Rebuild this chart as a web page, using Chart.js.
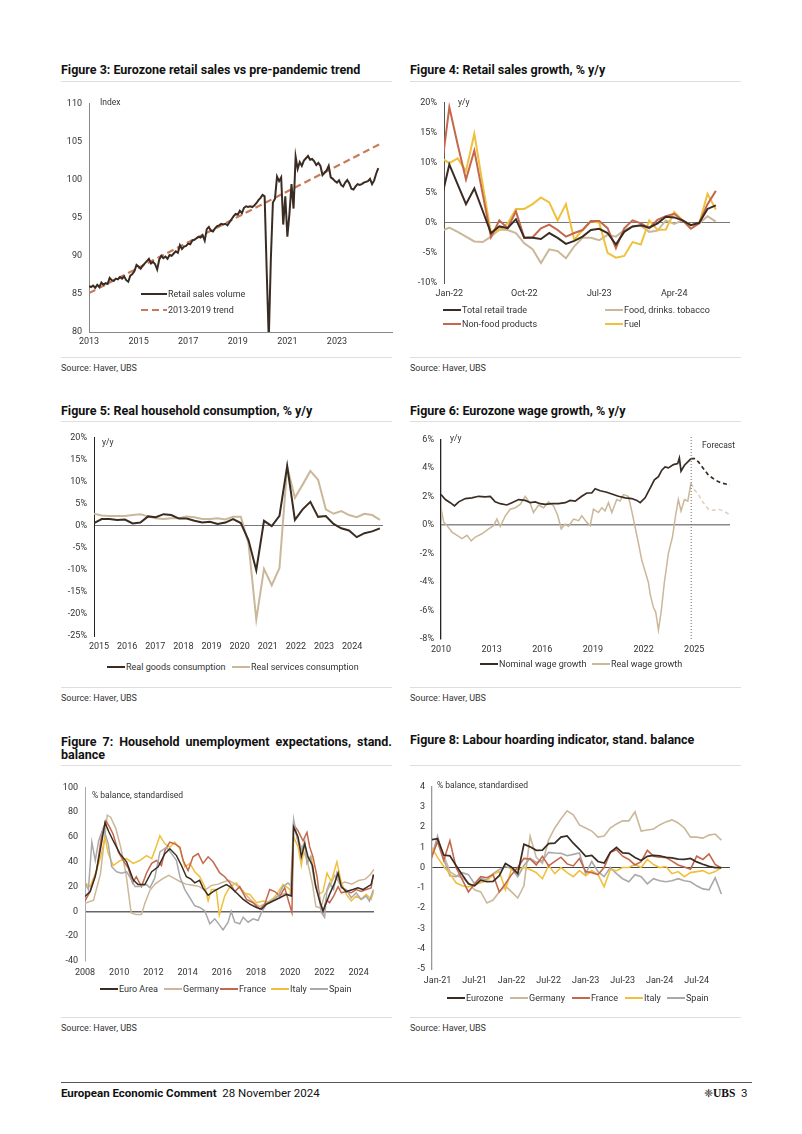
<!DOCTYPE html>
<html lang="en">
<head>
<meta charset="UTF-8" />
<script src="https://cdn.jsdelivr.net/npm/chart.js"></script>
<style>
  body { margin: 0; background: #fff; }
  #page { position: relative; width: 802px; height: 1134px; overflow: hidden; font-family: Roboto, "Open Sans", sans-serif; color: #222; }
  canvas { position: absolute; }
  .title { position: absolute; font-weight: 700; font-size: 12.5px; line-height: 13px; color: #111; }
  .rule { position: absolute; height: 1px; background: #dedede; }
  .source { position: absolute; font-size: 9px; line-height: 12px; color: #333; }
  .note { position: absolute; font-size: 8.5px; line-height: 12px; color: #333; z-index: 2; }
  .leg { position: absolute; display: flex; align-items: center; height: 12px; font-size: 9px; color: #333; white-space: nowrap; z-index: 2; }
  .sw { display: inline-block; width: 18px; height: 2px; margin-right: 1px; }
  .footer { position: absolute; top: 1086px; font-size: 11.5px; line-height: 14px; color: #111; }
</style>
</head>
<body>
<div id="page">
  <div class="title" style="left:61px; top:63px;">Figure 3: Eurozone retail sales vs pre-pandemic trend</div>
  <div class="title" style="left:410px; top:63px;">Figure 4: Retail sales growth, % y/y</div>
  <div class="rule" style="left:61px; top:81px; width:331px;"></div>
  <div class="rule" style="left:410px; top:81px; width:331px;"></div>

  <canvas id="fig3"></canvas>
  <canvas id="fig4"></canvas>
  <div class="note" style="left:100px; top:96px;">Index</div>
  <div class="note" style="left:458px; top:96px;">y/y</div>
  <div class="leg" style="left:141px; top:288px;"><span class="sw" style="width:26px; background:#3a2c22;"></span>Retail sales volume</div>
  <div class="leg" style="left:141px; top:304px;"><span class="sw" style="width:26px; height:2.5px; background:repeating-linear-gradient(to right,#c87a5a 0 7px,transparent 7px 11px);"></span>2013-2019 trend</div>
  <div class="leg" style="left:443px; top:304px;"><span class="sw" style="background:#3a2c22;"></span>Total retail trade</div>
  <div class="leg" style="left:605px; top:304px;"><span class="sw" style="background:#cbb799;"></span>Food, drinks. tobacco</div>
  <div class="leg" style="left:443px; top:318px;"><span class="sw" style="background:#c4674b;"></span>Non-food products</div>
  <div class="leg" style="left:605px; top:318px;"><span class="sw" style="background:#f0c03c;"></span>Fuel</div>

  <div class="rule" style="left:61px; top:357px; width:331px;"></div>
  <div class="rule" style="left:410px; top:357px; width:331px;"></div>
  <div class="source" style="left:61px; top:362px;">Source: Haver, UBS</div>
  <div class="source" style="left:410px; top:362px;">Source: Haver, UBS</div>

  <div class="title" style="left:61px; top:404px;">Figure 5: Real household consumption, % y/y</div>
  <div class="title" style="left:410px; top:404px;">Figure 6: Eurozone wage growth, % y/y</div>
  <div class="rule" style="left:61px; top:421px; width:331px;"></div>
  <div class="rule" style="left:410px; top:421px; width:331px;"></div>

  <canvas id="fig5"></canvas>
  <canvas id="fig6"></canvas>
  <div class="note" style="left:102px; top:436px;">y/y</div>
  <div class="note" style="left:450px; top:432px;">y/y</div>
  <div class="note" style="left:702px; top:439px;">Forecast</div>
  <div class="leg" style="left:107px; top:661px;"><span class="sw" style="background:#3a2c22;"></span>Real goods consumption</div>
  <div class="leg" style="left:232px; top:661px;"><span class="sw" style="background:#cbb799;"></span>Real services consumption</div>
  <div class="leg" style="left:480px; top:658px;"><span class="sw" style="background:#3a2c22;"></span>Nominal wage growth</div>
  <div class="leg" style="left:592px; top:658px;"><span class="sw" style="background:#cbb799;"></span>Real wage growth</div>

  <div class="rule" style="left:61px; top:687px; width:331px;"></div>
  <div class="rule" style="left:410px; top:687px; width:331px;"></div>
  <div class="source" style="left:61px; top:692px;">Source: Haver, UBS</div>
  <div class="source" style="left:410px; top:692px;">Source: Haver, UBS</div>

  <div class="title" style="left:61px; top:735px; width:331px; text-align:justify;">Figure 7: Household unemployment expectations, stand. balance</div>
  <div class="title" style="left:410px; top:733px;">Figure 8: Labour hoarding indicator, stand. balance</div>
  <div class="rule" style="left:61px; top:765px; width:331px;"></div>
  <div class="rule" style="left:410px; top:765px; width:331px;"></div>

  <canvas id="fig7"></canvas>
  <canvas id="fig8"></canvas>
  <div class="note" style="left:92px; top:789px;">% balance, standardised</div>
  <div class="note" style="left:437px; top:779px;">% balance, standardised</div>
  <div class="leg" style="left:100px; top:983px;"><span class="sw" style="background:#3a2c22;"></span>Euro Area</div>
  <div class="leg" style="left:164px; top:983px;"><span class="sw" style="background:#cbb799;"></span>Germany</div>
  <div class="leg" style="left:220px; top:983px;"><span class="sw" style="background:#c4674b;"></span>France</div>
  <div class="leg" style="left:271px; top:983px;"><span class="sw" style="background:#f0c03c;"></span>Italy</div>
  <div class="leg" style="left:310px; top:983px;"><span class="sw" style="background:#a9a9a9;"></span>Spain</div>
  <div class="leg" style="left:447px; top:992px;"><span class="sw" style="background:#3a2c22;"></span>Eurozone</div>
  <div class="leg" style="left:510px; top:992px;"><span class="sw" style="background:#cbb799;"></span>Germany</div>
  <div class="leg" style="left:572px; top:992px;"><span class="sw" style="background:#c4674b;"></span>France</div>
  <div class="leg" style="left:625px; top:992px;"><span class="sw" style="background:#f0c03c;"></span>Italy</div>
  <div class="leg" style="left:667px; top:992px;"><span class="sw" style="background:#a9a9a9;"></span>Spain</div>

  <div class="rule" style="left:61px; top:1017px; width:331px;"></div>
  <div class="rule" style="left:410px; top:1017px; width:331px;"></div>
  <div class="source" style="left:61px; top:1022px;">Source: Haver, UBS</div>
  <div class="source" style="left:410px; top:1022px;">Source: Haver, UBS</div>

  <div class="rule" style="left:61px; top:1082px; width:691px; background:#555;"></div>
  <div class="footer" style="left:61px;"><b>European Economic Comment</b>&nbsp; 28 November 2024</div>
  <div class="footer" style="left:704px;"><span style="font-size:11px;">❈</span><span style="font-family:'Liberation Serif',serif; font-weight:700;">UBS</span>&nbsp;&nbsp;3</div>
</div>

<script>
// ---------- data ----------
// Figure 3: monthly from Jan 2013
const rsStartYear = 2013;
const retailVolume = [
  86.0, 85.9, 86.1, 85.8, 86.2, 85.9, 86.5, 86.2, 86.4, 86.3, 87.1, 86.8,
  86.7, 87.0, 86.9, 87.2, 87.0, 87.3, 86.8, 86.6, 87.4, 87.6, 88.0, 88.8,
  88.6, 88.3, 88.7, 89.0, 89.3, 89.6, 89.0, 89.2, 88.9, 88.2, 89.5, 90.0,
  89.7, 89.9, 89.6, 90.1, 90.0, 90.3, 90.6, 90.4, 91.4, 90.9, 91.2, 91.3,
  91.6, 91.5, 92.0, 92.1, 92.3, 92.5, 92.4, 92.7, 92.0, 93.5, 93.8, 93.3,
  93.2, 93.6, 93.9, 94.0, 94.2, 94.1, 94.2, 94.0, 94.4, 94.8, 95.2, 95.5,
  95.4, 95.9, 95.6, 96.3, 96.5, 96.4, 96.5, 96.4, 96.6, 96.9, 97.3, 97.6,
  98.0, 97.8, 88.0, 79.0, 89.5, 97.0, 97.5, 100.4, 99.8, 100.3, 94.1, 97.8,
  92.5, 95.5, 99.4, 96.2, 103.0, 101.4, 102.3, 101.8, 102.5, 102.8, 103.1, 102.6,
  102.7, 102.4, 101.9, 102.2, 101.8, 100.6, 100.9, 101.2, 101.8, 100.3, 100.1, 99.8,
  99.6, 99.9, 99.3, 99.1, 99.6, 99.95, 99.5, 98.8, 98.7, 99.1, 99.4, 99.3,
  99.4, 99.6, 99.7, 99.8, 100.1, 99.4, 99.9, 100.8, 101.5
];
const trendYears = [2013, 2024.75];
const trendValues = [85.1, 104.7];
const fig3Ticks = [2013, 2015, 2017, 2019, 2021, 2023];
const fig3Labels = ["2013", "2015", "2017", "2019", "2021", "2023"];

// Figure 4: monthly Dec-21 .. Sep-24 (x = months since Jan-22)
const totalRetail = [3.7, 9.7, 6.4, 3.1, 5.7, 2.0, -1.7, -0.6, -0.9, 0.6, -2.5, -2.5, -2.7, -1.7, -2.5, -3.5, -3.0, -2.3, -1.2, -1.0, -1.7, -3.6, -1.5, -0.6, -0.4, -0.8, -0.1, 1.0, 0.9, 0.4, -0.4, 0.0, 2.3, 2.9];
const foodDrinks = [-1.4, -0.8, -1.5, -2.3, -3.1, -3.2, -2.3, -1.1, -1.2, -1.7, -3.4, -4.4, -6.7, -4.4, -4.7, -5.9, -3.9, -2.5, -2.5, -2.9, -2.0, -2.3, -1.2, -0.6, -0.5, -1.5, -1.3, 0.4, -0.2, 0.4, -0.4, -0.1, 1.1, 0.2];
const nonFood = [8.2, 19.2, 13.0, 7.2, 12.0, 4.8, -2.4, 0.4, -0.9, 1.9, -2.5, -2.4, -0.9, -0.3, -1.2, -2.3, -1.7, -1.2, 0.3, 0.3, -0.9, -4.2, -0.9, 0.4, -0.1, -0.9, 0.5, 1.1, 1.5, 0.4, -1.0, -0.1, 3.1, 5.3];
const fuel = [10.8, 9.9, 10.7, 8.6, 14.8, 6.4, -1.7, -1.2, -0.1, 2.3, 2.3, 3.1, 4.2, 3.4, 0.4, 3.1, -2.8, -1.2, 0.3, 0.0, -5.0, -5.8, -5.5, -3.2, -3.6, 0.4, -1.2, -1.1, 1.8, 0.4, -0.4, -0.1, 4.8, 2.2];
const fig4Ticks = [0, 9, 18, 27];
const fig4Labels = ["Jan-22", "Oct-22", "Jul-23", "Apr-24"];

// Figure 5: quarterly 2015Q1 .. 2024Q2
const realGoods = [0.6, 1.5, 1.5, 1.3, 1.4, 0.5, 0.7, 2.1, 1.9, 2.6, 2.4, 1.6, 1.6, 1.1, 0.7, 0.9, 0.4, 0.7, 1.5, 0.6, -3.3, -10.1, 1.1, -0.1, 2.2, 13.5, 1.3, 3.7, 5.4, 2.0, 2.2, 0.4, -0.6, -1.1, -2.6, -1.7, -1.3, -0.6];
const realServices = [2.7, 2.3, 2.2, 2.2, 2.2, 2.4, 2.6, 2.1, 1.7, 1.5, 1.7, 1.7, 2.1, 1.9, 1.5, 1.5, 1.7, 1.4, 2.0, 2.0, -4.1, -21.3, -9.8, -13.5, -9.6, 13.3, 6.3, 9.3, 12.4, 10.4, 3.7, 2.7, 3.3, 2.4, 1.9, 2.7, 2.4, 1.3];
const fig5Ticks = [0.65, 4.29, 7.93, 11.57, 15.21, 18.85, 22.49, 26.13, 29.77, 33.41];
const fig5Labels = ["2015", "2016", "2017", "2018", "2019", "2020", "2021", "2022", "2023", "2024"];

// Figure 6: [year, % y/y]
const nominalWage = [[2010.0,2.13],[2010.26,1.78],[2010.55,1.56],[2010.8,1.33],[2011.05,1.62],[2011.44,1.85],[2011.83,1.9],[2012.23,2.01],[2012.62,1.97],[2012.92,2.0],[2013.21,1.62],[2013.51,1.49],[2013.9,1.4],[2014.2,1.56],[2014.6,1.78],[2014.99,1.72],[2015.29,1.56],[2015.58,1.62],[2015.88,1.49],[2016.17,1.44],[2016.57,1.49],[2016.96,1.49],[2017.36,1.56],[2017.65,1.72],[2017.95,1.67],[2018.34,2.01],[2018.64,2.24],[2018.93,2.24],[2019.13,2.54],[2019.43,2.4],[2019.82,2.29],[2020.12,2.17],[2020.51,2.01],[2020.91,1.9],[2021.3,1.85],[2021.6,1.72],[2021.8,1.56],[2022.09,1.9],[2022.39,2.59],[2022.64,3.16],[2022.88,3.39],[2023.08,3.84],[2023.27,4.07],[2023.47,4.0],[2023.77,4.23],[2024.02,4.3],[2024.12,4.69],[2024.22,3.78],[2024.42,4.19],[2024.62,4.42],[2024.81,4.65]];
const nominalWageFc = [[2024.81,4.65],[2025.01,4.65],[2025.25,4.42],[2025.54,3.96],[2025.84,3.5],[2026.23,3.16],[2026.63,2.93],[2027.12,2.81]];
const realWage = [[2010.0,1.21],[2010.16,0.18],[2010.36,-0.05],[2010.65,-0.5],[2010.95,-0.73],[2011.24,-0.96],[2011.54,-0.73],[2011.79,-1.12],[2012.03,-0.85],[2012.43,-0.62],[2012.82,-0.27],[2013.12,-0.05],[2013.31,0.41],[2013.51,-0.11],[2013.81,0.64],[2014.1,1.1],[2014.4,1.21],[2014.69,1.44],[2014.99,2.01],[2015.29,1.49],[2015.48,0.87],[2015.78,1.4],[2016.08,1.21],[2016.37,1.62],[2016.67,1.33],[2016.92,0.64],[2017.12,-0.27],[2017.36,0.07],[2017.55,-0.11],[2017.85,0.41],[2018.15,0.3],[2018.34,0.64],[2018.64,0.18],[2018.84,-0.05],[2019.03,1.1],[2019.33,0.87],[2019.53,1.21],[2019.72,0.98],[2019.92,1.56],[2020.12,0.87],[2020.41,1.78],[2020.61,1.67],[2020.81,2.13],[2021.1,2.01],[2021.3,0.98],[2021.5,-0.16],[2021.7,-1.3],[2021.89,-2.45],[2022.09,-3.25],[2022.29,-4.05],[2022.39,-4.85],[2022.58,-5.77],[2022.72,-6.11],[2022.88,-7.37],[2023.04,-6.11],[2023.23,-4.05],[2023.47,-1.99],[2023.71,-0.85],[2023.91,0.76],[2024.06,1.78],[2024.22,0.98],[2024.42,1.78],[2024.62,1.67],[2024.81,2.93]];
const realWageFc = [[2024.81,2.93],[2025.01,2.47],[2025.25,2.13],[2025.54,1.56],[2025.84,1.1],[2026.13,1.03],[2026.43,1.1],[2026.73,0.98],[2027.12,0.71]];
const forecastStart = 2024.82;
const fig6Ticks = [2010, 2013, 2016, 2019, 2022, 2025];
const fig6Labels = ["2010", "2013", "2016", "2019", "2022", "2025"];

// Figure 7: [year, balance]
const ueEuro = [[2008.0,12],[2008.3,16],[2008.6,28],[2008.9,50],[2009.17,71.6],[2009.4,64],[2009.65,57],[2010.04,46.6],[2010.43,40],[2010.82,25.5],[2011.1,21.6],[2011.5,21.6],[2011.9,32],[2012.28,36],[2012.67,46.6],[2012.96,50.5],[2013.35,45],[2013.64,37],[2013.93,28],[2014.2,26],[2014.42,23],[2014.7,25],[2014.9,19],[2015.2,13],[2015.49,16],[2015.88,19],[2016.27,21.6],[2016.47,20],[2016.86,15],[2017.25,9.7],[2017.64,5.8],[2018.03,3.2],[2018.32,1.8],[2018.61,5.8],[2019.0,8.4],[2019.39,11],[2019.78,13.7],[2020.07,12.4],[2020.2,68],[2020.46,60],[2020.65,44],[2020.85,54.5],[2021.04,44],[2021.3,37],[2021.49,20],[2021.72,8.4],[2021.92,0.5],[2022.11,7],[2022.3,13.7],[2022.6,23],[2022.8,31],[2022.99,20],[2023.28,16],[2023.67,17.6],[2023.96,19],[2024.25,17.6],[2024.54,20],[2024.73,21.6],[2024.87,29.5]];
const ueGermany = [[2008.0,6.6],[2008.5,9],[2008.9,30],[2009.3,77.6],[2009.5,76],[2009.8,67],[2010.1,51],[2010.4,30],[2010.7,-1.3],[2011.0,-2.6],[2011.3,-2.6],[2011.5,6.6],[2011.8,17],[2012.1,22],[2012.5,26],[2012.9,29],[2013.3,26],[2013.6,23.7],[2013.9,22],[2014.3,21],[2014.7,20],[2015.0,17],[2015.4,21],[2015.8,22],[2016.1,23.7],[2016.4,25],[2016.8,22],[2017.2,17],[2017.5,12],[2017.9,6.6],[2018.2,4],[2018.6,6.6],[2019.0,10.5],[2019.4,13],[2019.7,14.5],[2020.0,13],[2020.2,72],[2020.4,59],[2020.7,51],[2021.0,41],[2021.3,22],[2021.5,4],[2021.8,2.6],[2022.0,13],[2022.3,20],[2022.6,29],[2022.9,22],[2023.2,23.7],[2023.6,22],[2024.0,25],[2024.4,26],[2024.7,30],[2024.9,34]];
const ueFrance = [[2008.0,8.4],[2008.3,16],[2008.68,33],[2008.97,61],[2009.22,73],[2009.46,67.6],[2009.65,62],[2009.95,48],[2010.24,41],[2010.53,35],[2010.78,23],[2011.0,28],[2011.3,20],[2011.6,31],[2011.9,38.7],[2012.18,41],[2012.47,37],[2012.67,49],[2012.96,55.8],[2013.25,54.5],[2013.55,51.8],[2013.74,41],[2014.03,33],[2014.32,44],[2014.62,46.6],[2014.9,38.7],[2015.2,44],[2015.49,40],[2015.88,31],[2016.17,28],[2016.47,23],[2016.76,16],[2017.05,20],[2017.44,9.7],[2017.83,7],[2018.22,1.8],[2018.51,5.8],[2018.8,17.6],[2019.1,16],[2019.39,12.4],[2019.68,19],[2019.93,7],[2020.1,-0.8],[2020.2,70],[2020.46,65],[2020.75,57],[2020.98,63.7],[2021.14,52],[2021.33,44],[2021.57,28],[2021.76,7],[2021.92,-0.8],[2022.11,9.7],[2022.3,7],[2022.54,12.4],[2022.8,20],[2022.99,15],[2023.28,16],[2023.57,15],[2023.86,17.6],[2024.15,16],[2024.44,17.6],[2024.73,19],[2024.87,30]];
const ueItaly = [[2008.0,23],[2008.3,20],[2008.68,33],[2008.97,46.6],[2009.17,60],[2009.36,46.6],[2009.65,37],[2010.04,41],[2010.43,42.6],[2010.82,38.7],[2011.2,41],[2011.6,45],[2011.9,42.6],[2012.08,49],[2012.38,61],[2012.67,54.5],[2012.96,51.8],[2013.25,55.8],[2013.55,50.5],[2013.84,36],[2014.13,38.7],[2014.42,32],[2014.71,28],[2015.0,20],[2015.2,8.4],[2015.39,17.6],[2015.68,17.6],[2015.85,-3],[2016.17,12.4],[2016.47,20],[2016.86,23],[2017.25,15],[2017.64,13.7],[2018.03,7],[2018.42,8.4],[2018.8,7],[2019.2,13.7],[2019.58,21.6],[2019.87,19],[2020.1,16],[2020.2,60],[2020.46,52],[2020.65,37],[2020.85,54.5],[2021.04,41],[2021.24,44],[2021.49,20],[2021.68,13.7],[2021.92,16],[2022.15,31],[2022.4,24],[2022.73,40],[2022.99,23],[2023.28,13.7],[2023.57,8.4],[2023.86,12.4],[2024.15,9.7],[2024.44,13.7],[2024.73,9.7],[2024.87,16]];
const ueSpain = [[2008.0,23],[2008.2,17.6],[2008.4,55.8],[2008.6,41],[2008.8,57],[2009.07,67.6],[2009.36,54.5],[2009.56,36],[2009.85,32],[2010.14,30.8],[2010.43,32],[2010.72,25.5],[2010.92,20],[2011.2,20],[2011.6,21.6],[2011.8,19],[2012.08,27],[2012.38,48],[2012.77,51.8],[2013.06,46.6],[2013.35,41],[2013.55,28],[2013.84,17.6],[2014.13,11],[2014.42,4.5],[2014.71,3.2],[2015.0,0.5],[2015.3,-10],[2015.59,-6],[2015.88,-11.3],[2016.07,-15],[2016.37,-8.7],[2016.55,0],[2016.76,-8.7],[2017.05,-10],[2017.25,-4.7],[2017.54,-8.7],[2017.83,-6],[2018.12,-7.4],[2018.32,-0.8],[2018.61,5.8],[2018.9,8.4],[2019.29,12.4],[2019.58,20],[2019.87,23],[2020.09,20],[2020.2,74],[2020.46,56],[2020.65,49],[2020.85,57],[2020.98,38.7],[2021.18,44],[2021.43,23],[2021.63,17.6],[2021.82,-0.8],[2022.01,-4.7],[2022.15,17.6],[2022.3,23],[2022.54,17.6],[2022.73,31],[2022.99,19],[2023.28,17.6],[2023.57,11],[2023.86,15],[2024.15,9.7],[2024.44,12.4],[2024.63,8.4],[2024.87,17.6]];
const fig7Ticks = [2008, 2010, 2012, 2014, 2016, 2018, 2020, 2022, 2024];
const fig7Labels = ["2008", "2010", "2012", "2014", "2016", "2018", "2020", "2022", "2024"];

// Figure 8: monthly Dec-20 .. Nov-24 (x = months since Jan-21)
const lhEurozone = [1.37, 1.42, 0.62, 0.58, 0.1, -0.35, -0.8, -0.9, -0.62, -0.7, -0.68, -0.4, 0.2, 0.02, -0.3, 1.15, 1.02, 0.85, 0.86, 1.18, 1.2, 1.5, 1.56, 1.2, 0.9, 0.55, 0.6, 0.3, 0.22, 0.75, 1.0, 0.72, 0.7, 0.5, 0.35, 0.55, 0.6, 0.58, 0.5, 0.48, 0.42, 0.4, 0.45, 0.28, 0.16, 0.06, 0.0, 0.0];
const lhGermany = [0.64, 1.3, 0.6, -0.2, -0.4, -0.5, -0.75, -1.1, -1.2, -1.75, -1.6, -1.2, -0.9, -1.2, -1.5, -0.9, 1.55, 0.5, 0.2, 1.37, 1.95, 2.4, 2.8, 2.6, 2.1, 1.95, 1.8, 1.5, 1.55, 1.95, 2.15, 2.3, 2.3, 2.75, 1.8, 1.85, 1.9, 2.1, 2.25, 2.35, 2.2, 1.95, 1.5, 1.5, 1.45, 1.6, 1.65, 1.35];
const lhFrance = [0.48, 1.29, 0.35, 1.32, 0.0, -0.6, -1.2, -0.8, -0.45, -0.5, -0.35, -1.2, -0.8, -0.35, 0.0, 0.45, 0.42, 0.13, 0.55, 0.08, 0.3, 0.51, 0.18, 0.08, 0.45, -0.2, -0.25, -0.35, 0.0, 0.75, 0.88, 0.56, 0.4, 0.13, 0.29, 0.85, 0.56, 0.51, 0.5, 0.32, 0.13, 0.03, -0.08, 0.56, 0.4, 0.67, 0.16, -0.03];
const lhItaly = [1.0, 0.5, 0.05, -0.3, -0.75, -0.9, -0.95, -0.85, -0.75, -0.65, -0.35, -0.2, -1.1, -0.05, -0.1, 0.0, -0.1, -0.25, -0.55, 0.1, -0.3, 0.0, -0.25, -0.45, -0.15, -0.4, -0.15, -0.35, -0.95, -0.1, -0.15, 0.0, 0.0, 0.15, 0.0, 0.4, 0.15, 0.0, 0.05, -0.3, -0.2, -0.45, -0.25, -0.2, -0.15, -0.3, -0.2, 0.0];
const lhSpain = [0.45, 1.55, 0.4, -0.4, -0.45, -0.25, -0.35, -0.8, -0.55, -0.6, -0.3, -0.1, 0.05, -0.05, -0.45, 0.1, 0.45, 0.25, 0.35, 0.75, 0.72, 0.7, 0.58, 0.65, 0.72, -0.3, 0.3, -0.2, -0.45, 0.0, -0.3, -0.55, -0.7, -0.35, -0.45, -0.8, -0.55, -0.65, -0.7, -0.65, -0.55, -0.65, -0.7, -0.9, -1.05, -1.1, -0.5, -1.3];
const fig8Ticks = [0, 6, 12, 18, 24, 30, 36, 42];
const fig8Labels = ["Jan-21", "Jul-21", "Jan-22", "Jul-22", "Jan-23", "Jul-23", "Jan-24", "Jul-24"];

// ---------- styling ----------
const DARK = "#3a2c22", TAN = "#cbb799", TAN_FC = "#ddd0bd", RED = "#c4674b", YELLOW = "#f0c03c", GREY = "#a9a9a9", TREND = "#c87a5a";
const TXT = "#333";
const TICK_FONT = { family: "Roboto, 'Open Sans', sans-serif", size: 9 };
const YW = 45, XH = 22, PT = 8, PR = 6;

function place(id, r) {
  const c = document.getElementById(id);
  c.width = r.r - r.l + YW + PR;
  c.height = r.b - r.t + PT + XH;
  c.style.width = c.width + "px";
  c.style.height = c.height + "px";
  c.style.left = (r.l - YW) + "px";
  c.style.top = (r.t - PT) + "px";
  return c;
}

function line(data, color, extra) {
  return Object.assign({ data, borderColor: color, borderWidth: 1.6, pointRadius: 0, tension: 0, fill: false }, extra || {});
}

const pairs = arr => arr.map(p => ({ x: p[0], y: p[1] }));
const indexed = (arr, offset) => arr.map((v, i) => ({ x: i + offset, y: v }));

function makeChart(id, r, o) {
  const c = place(id, r);
  return new Chart(c, {
    type: "line",
    data: { datasets: o.datasets },
    options: {
      responsive: false,
      animation: false,
      devicePixelRatio: 1,
      layout: { padding: { top: PT, right: PR, left: 0, bottom: 0 } },
      plugins: { legend: { display: false }, tooltip: { enabled: false } },
      scales: {
        x: {
          type: "linear", min: o.xMin, max: o.xMax,
          grid: { display: false, drawTicks: false },
          border: { display: !!o.xBorder, color: o.axisColor || "#888", width: 1 },
          afterBuildTicks: s => { s.ticks = o.xTicks.map(v => ({ value: v })); },
          afterFit: s => { s.height = XH; },
          ticks: { autoSkip: false, maxRotation: 0, padding: o.xPad || 5, color: TXT, font: TICK_FONT,
                   callback: (v, i) => o.xLabels[i] }
        },
        y: {
          min: o.yMin, max: o.yMax,
          grid: {
            drawTicks: false,
            color: ctx => (o.zero && ctx.tick && ctx.tick.value === 0) ? o.zero.color : "rgba(0,0,0,0)",
            lineWidth: o.zero ? o.zero.width : 1
          },
          border: { display: true, color: o.axisColor || "#888", width: o.axisWidth || 1 },
          afterFit: s => { s.width = YW; },
          ticks: { stepSize: o.yStep, padding: 7, color: TXT, font: TICK_FONT,
                   callback: v => v + (o.ySuffix || "") }
        }
      }
    }
  });
}

// ---------- charts ----------
makeChart("fig3", { l: 89, t: 99, r: 392, b: 332 }, {
  datasets: [
    line(retailVolume.map((v, i) => ({ x: rsStartYear + i / 12, y: v })), DARK, { borderWidth: 2 }),
    line(trendYears.map((x, i) => ({ x, y: trendValues[i] })), TREND, { borderWidth: 2.2, borderDash: [7, 4] })
  ],
  xMin: 2013, xMax: 2025.22, xTicks: fig3Ticks, xLabels: fig3Labels, xBorder: true, xPad: 4,
  yMin: 80, yMax: 110, yStep: 5, axisColor: "#888"
});

makeChart("fig4", { l: 444, t: 98, r: 730, b: 283 }, {
  datasets: [
    line(indexed(totalRetail, -1), DARK, { borderWidth: 2 }),
    line(indexed(nonFood, -1), RED, { borderWidth: 2 }),
    line(indexed(fuel, -1), YELLOW, { borderWidth: 2 }),
    line(indexed(foodDrinks, -1), TAN, { borderWidth: 2 })
  ],
  xMin: -0.64, xMax: 33.7, xTicks: fig4Ticks, xLabels: fig4Labels, xPad: 5,
  yMin: -10, yMax: 20, yStep: 5, ySuffix: "%", axisColor: "#555",
  zero: { color: "#777", width: 1 }
});

makeChart("fig5", { l: 94, t: 433, r: 383, b: 636 }, {
  datasets: [
    line(indexed(realGoods, 0), DARK, { borderWidth: 2 }),
    line(indexed(realServices, 0), TAN, { borderWidth: 2 })
  ],
  xMin: 0, xMax: 37.4, xTicks: fig5Ticks, xLabels: fig5Labels, xPad: 5,
  yMin: -25, yMax: 20, yStep: 5, ySuffix: "%", axisColor: "#222",
  zero: { color: "#777", width: 1 }
});

makeChart("fig6", { l: 441, t: 435, r: 730, b: 639 }, {
  datasets: [
    line([{ x: forecastStart, y: -8 }, { x: forecastStart, y: 6.25 }], "#666", { borderWidth: 1, borderDash: [1, 2], clip: false }),
    line(pairs(nominalWage), DARK, { borderWidth: 1.7 }),
    line(pairs(nominalWageFc), DARK, { borderWidth: 1.7, borderDash: [4, 3] }),
    line(pairs(realWage), TAN, { borderWidth: 1.5 }),
    line(pairs(realWageFc), TAN_FC, { borderWidth: 1.5, borderDash: [4, 3] })
  ],
  xMin: 2010, xMax: 2027.12, xTicks: fig6Ticks, xLabels: fig6Labels, xPad: 5,
  yMin: -8, yMax: 6, yStep: 2, ySuffix: "%", axisColor: "#222", axisWidth: 1.3,
  zero: { color: "#8a8a8a", width: 1.6 }
});

makeChart("fig7", { l: 85, t: 783, r: 374, b: 961 }, {
  datasets: [
    line(pairs(ueEuro), DARK, { borderWidth: 1.5 }),
    line(pairs(ueSpain), GREY, { borderWidth: 1.5 }),
    line(pairs(ueFrance), RED, { borderWidth: 1.5 }),
    line(pairs(ueItaly), YELLOW, { borderWidth: 1.5 }),
    line(pairs(ueGermany), TAN, { borderWidth: 1.5 })
  ],
  xMin: 2008, xMax: 2024.9, xTicks: fig7Ticks, xLabels: fig7Labels, xPad: 6,
  yMin: -40, yMax: 100, yStep: 20, axisColor: "#aaa",
  zero: { color: "#666", width: 1.6 }
});

makeChart("fig8", { l: 432, t: 782, r: 730, b: 969 }, {
  datasets: [
    line(indexed(lhEurozone, -1), DARK, { borderWidth: 1.7 }),
    line(indexed(lhFrance, -1), RED, { borderWidth: 1.6 }),
    line(indexed(lhItaly, -1), YELLOW, { borderWidth: 1.6 }),
    line(indexed(lhSpain, -1), GREY, { borderWidth: 1.6 }),
    line(indexed(lhGermany, -1), TAN, { borderWidth: 1.6 })
  ],
  xMin: -0.9, xMax: 47.4, xTicks: fig8Ticks, xLabels: fig8Labels, xPad: 6,
  yMin: -5, yMax: 4, yStep: 1, axisColor: "#999", axisWidth: 1.3,
  zero: { color: "#444", width: 1 }
});
</script>
</body>
</html>
